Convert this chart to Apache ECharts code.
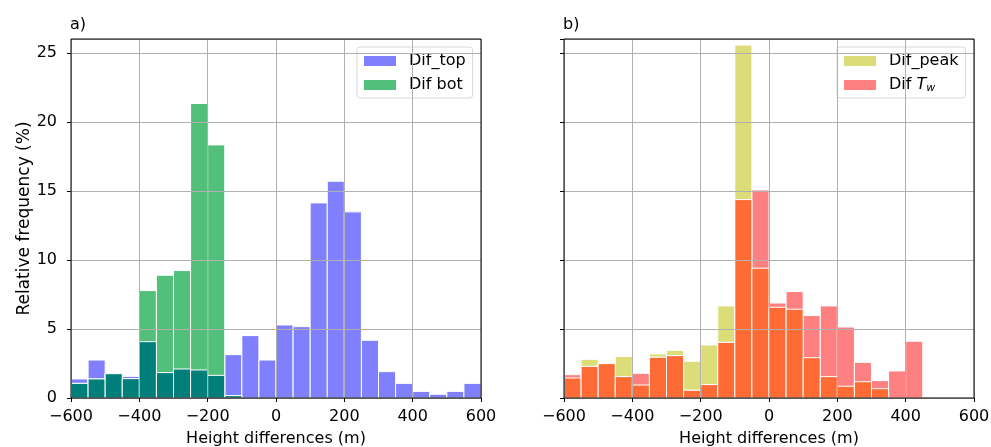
<!DOCTYPE html>
<html>
<head>
<meta charset="utf-8">
<script src="https://cdn.jsdelivr.net/npm/echarts@6/dist/echarts.min.js"></script>
<style>html,body{margin:0;padding:0;background:#fff}#c{width:991px;height:447px}</style>
</head>
<body>
<div id="c"></div>
<script>
// Bin edges (m)
const binEdges = [-600,-550,-500,-450,-400,-350,-300,-250,-200,-150,-100,-50,0,50,100,150,200,250,300,350,400,450,500,550,600];
// Panel a) relative frequency (%)
const difTop = [1.38,2.75,1.76,1.57,4.08,1.84,2.10,2.03,1.64,3.14,4.52,2.75,5.29,5.17,14.13,15.70,13.48,4.18,1.91,1.06,0.48,0.27,0.48,1.06];
const difBot = [1.06,1.38,1.76,1.40,7.78,8.89,9.23,21.33,18.33,0.17,0,0,0,0,0,0,0,0,0,0,0,0,0,0];
// Panel b)
const difPeak = [1.45,2.80,2.49,3.00,0.94,3.19,3.45,2.66,3.84,6.67,25.56,9.40,6.57,6.43,2.92,1.55,0.85,1.18,0.68,0,0,0,0,0];
const difTw = [1.69,2.29,2.49,1.55,1.79,2.95,3.07,0.56,0.97,4.03,14.37,15.07,6.88,7.71,5.97,6.67,5.14,2.58,1.26,1.96,4.11,0.05,0,0];
const xTicks = [-600,-400,-200,0,200,400,600];
const yTicks = [0,5,10,15,20,25];

const FONT = 'DejaVu Sans';
function toData(vals){ return vals.map((v,i)=>[binEdges[i], binEdges[i+1], v]); }
function minArr(a,b){ return a.map((v,i)=>Math.min(v,b[i])); }

function renderBar(params, api){
  const p0 = api.coord([api.value(0), 0]);
  const p1 = api.coord([api.value(1), api.value(2)]);
  const h = p0[1]-p1[1];
  if (h <= 0) return null;
  return {
    type:'rect',
    shape:{x:p0[0], y:p1[1], width:p1[0]-p0[0], height:h},
    style:{fill: api.visual('color'), stroke:'#ffffff', lineWidth:1}
  };
}
function barSeries(name, vals, color, idx){
  return {
    type:'custom', name:name, xAxisIndex:idx, yAxisIndex:idx,
    renderItem: renderBar, clip:true,
    itemStyle:{color:color},
    encode:{x:[0,1], y:2},
    data: toData(vals), z:2
  };
}
function fmtX(v){ return String(v).replace('-', '\u2212'); }

const grids = [
  {left:71, right:510, top:39, bottom:49, show:true, borderColor:'#000', borderWidth:1, backgroundColor:'transparent', z:6, containLabel:false, outerBoundsMode:'none'},
  {left:564, right:17, top:39, bottom:49, show:true, borderColor:'#000', borderWidth:1, backgroundColor:'transparent', z:6, containLabel:false, outerBoundsMode:'none'}
];
function xAx(i){
  return {
    type:'value', gridIndex:i, min:-600, max:600, interval:200, z:5,
    name:'Height differences (m)', nameLocation:'middle', nameGap:33,
    nameTextStyle:{fontFamily:FONT, fontSize:16, color:'#000'},
    axisLine:{show:false, onZero:false},
    axisTick:{show:true, length:4, lineStyle:{color:'#000'}},
    axisLabel:{fontFamily:FONT, fontSize:16, color:'#000', margin:11, formatter:fmtX},
    splitLine:{show:true, lineStyle:{color:'#b0b0b0', width:1}}
  };
}
function yAx(i){
  return {
    type:'value', gridIndex:i, min:0, max:26, interval:5, z:5,
    name: i===0 ? 'Relative frequency (%)' : '', nameLocation:'middle', nameGap:37,
    nameTextStyle:{fontFamily:FONT, fontSize:17, color:'#000'},
    axisLine:{show:false, onZero:false},
    axisTick:{show:true, length:4, lineStyle:{color:'#000'}},
    axisLabel:{show: i===0, fontFamily:FONT, fontSize:16, color:'#000', margin:14},
    splitLine:{show:true, lineStyle:{color:'#b0b0b0', width:1}}
  };
}
const legendBase = {
  orient:'vertical', icon:'rect', itemWidth:32, itemHeight:10, itemGap:6,
  backgroundColor:'rgba(255,255,255,0.85)', borderColor:'#d8d8d8', borderWidth:1, borderRadius:3,
  padding:[5,7,4,7],
  textStyle:{fontFamily:FONT, fontSize:16, color:'#000', padding:[0,0,0,8], lineHeight:18,
    rich:{i:{fontFamily:FONT, fontSize:16, fontStyle:'italic', color:'#000', lineHeight:18},
          s:{fontFamily:FONT, fontSize:11, fontStyle:'italic', color:'#000', lineHeight:18, padding:[7,0,0,0]}}}
};
const option = {
  animation:false,
  backgroundColor:'#fff',
  title:[
    {text:'a)', left:70, top:17, padding:0, textStyle:{fontFamily:FONT, fontSize:16, fontWeight:'normal', color:'#000'}},
    {text:'b)', left:563, top:17, padding:0, textStyle:{fontFamily:FONT, fontSize:16, fontWeight:'normal', color:'#000'}}
  ],
  legend:[
    Object.assign({}, legendBase, {data:['Dif_top','Dif bot'], left:357, top:47}),
    Object.assign({}, legendBase, {data:['Dif_peak','Dif Tw'], left:837, top:47,
      formatter: n => n==='Dif Tw' ? 'Dif {i|T}{s|w}' : n})
  ],
  grid: grids,
  xAxis:[xAx(0), xAx(1)],
  yAxis:[yAx(0), yAx(1)],
  series:[
    barSeries('Dif_top', difTop, '#8080ff', 0),
    barSeries('Dif bot', difBot, '#52bf7a', 0),
    barSeries('overlap_a', minArr(difTop, difBot), '#007f7a', 0),
    barSeries('Dif_peak', difPeak, '#dcdc78', 1),
    barSeries('Dif Tw', difTw, '#ff8080', 1),
    barSeries('overlap_b', minArr(difPeak, difTw), '#ff6b35', 1)
  ]
};
const chart = echarts.init(document.getElementById('c'), null, {renderer:'canvas'});
chart.setOption(option);
</script>
</body>
</html>
